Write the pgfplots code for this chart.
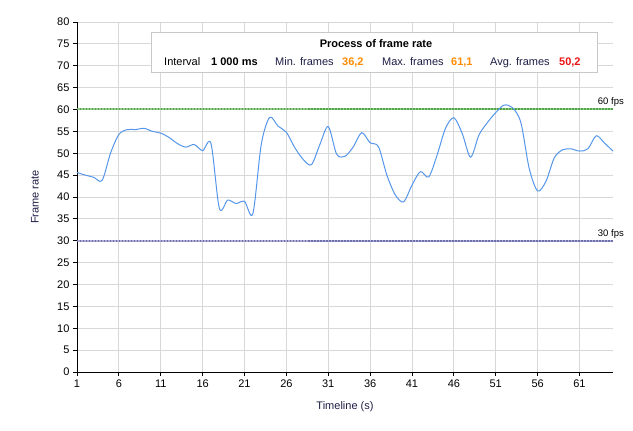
\documentclass[border=0pt]{standalone}
\usepackage{fontspec}
\setmainfont{Liberation Sans}
\usepackage{pgfplots}
\usepackage{pgfplotstable}
\pgfplotsset{compat=1.18}
\definecolor{curve}{RGB}{85,150,235}
\definecolor{gridc}{RGB}{216,216,216}
\definecolor{fpsgreen}{RGB}{80,165,70}
\definecolor{fpspurple}{RGB}{110,110,175}
\definecolor{navy}{RGB}{30,30,70}
\definecolor{orng}{RGB}{255,140,0}
\definecolor{redc}{RGB}{235,20,20}
\definecolor{boxc}{RGB}{200,200,200}

\pgfplotstableread{
t fps
1 45.6
2 45.0
3 44.5
4 43.8
5 50.0
6 54.3
7 55.4
8 55.4
9 55.7
10 55.0
11 54.6
12 53.6
13 52.2
14 51.4
15 52.0
16 50.6
17 52.2
18 37.4
19 39.3
20 38.5
21 39.0
22 36.2
23 52.0
24 58.2
25 56.2
26 54.8
27 51.3
28 48.6
29 47.4
30 52.0
31 56.1
32 49.8
33 49.3
34 51.5
35 54.7
36 52.4
37 51.5
38 45.0
39 40.5
40 38.9
41 42.7
42 45.8
43 44.6
44 49.6
45 55.7
46 58.1
47 54.5
48 49.1
49 54.2
50 57.0
51 59.3
52 61.0
53 60.4
54 57.0
55 46.5
56 41.4
57 43.6
58 49.0
59 50.8
60 51.0
61 50.5
62 51.0
63 54.0
64 52.3
65 50.5
}\datatable

\begin{document}
\begin{tikzpicture}
\begin{axis}[
  scale only axis, width=536pt, height=350pt,
  xmin=1, xmax=65, ymin=0, ymax=80,
  xtick={1,6,...,61}, ytick={0,5,...,80},
  axis x line*=bottom, axis y line*=left,
  axis line style={black, line width=0.8pt, -},
  tick align=outside, major tick length=4pt,
  tick style={black, line width=0.8pt},
  grid=major, major grid style={gridc, line width=0.8pt},
  ticklabel style={font=\fontsize{11}{12}\selectfont},
  /pgf/number format/assume math mode=true,
  xlabel={Timeline (s)}, ylabel={Frame rate},
  every axis x label/.style={at={(rel axis cs:0.5,0)}, yshift=-35pt, anchor=center, font=\fontsize{11}{12}\selectfont, text=navy},
  every axis y label/.style={at={(rel axis cs:0,0.5)}, xshift=-42pt, rotate=90, anchor=center, font=\fontsize{11}{12}\selectfont, text=navy},
  clip=false,
]
\coordinate (sw) at (rel axis cs:0,0);
\addplot[fpsgreen!60!white, line width=2pt] coordinates {(1,60) (65,60)};
\addplot[fpsgreen, line width=2pt, dash pattern=on 1.5pt off 1.5pt] coordinates {(1,60) (65,60)};
\addplot[fpspurple!55!white, line width=1.6pt] coordinates {(1,30) (65,30)};
\addplot[fpspurple, line width=1.6pt, dash pattern=on 1.5pt off 1.5pt] coordinates {(1,30) (65,30)};
\addplot[curve, line width=1pt, smooth, tension=0.5] table[x=t, y=fps] {\datatable};
\node[anchor=south east, font=\fontsize{9.5}{10}\selectfont, inner sep=1pt] at (axis cs:65,60) [xshift=12pt, yshift=1.5pt] {60 fps};
\node[anchor=south east, font=\fontsize{9.5}{10}\selectfont, inner sep=1pt] at (axis cs:65,30) [xshift=12pt, yshift=1.5pt] {30 fps};
\end{axis}
\begin{scope}[shift={(sw)}, shift={(-77pt,372pt)}]
\draw[boxc, fill=white, line width=0.8pt] (151pt,-32pt) rectangle (597pt,-72pt);
\node[font=\fontsize{11}{12}\selectfont\bfseries] at (376pt,-44pt) {Process of frame rate};
\begin{scope}[every node/.style={anchor=base west, inner sep=0pt, font=\fontsize{11}{12}\selectfont}]
\node at (164pt,-66pt) {Interval};
\node[font=\fontsize{11}{12}\selectfont\bfseries] at (211pt,-66pt) {1 000 ms};
\node[text=navy] at (275pt,-66pt) {Min. frames};
\node[text=orng, font=\fontsize{11}{12}\selectfont\bfseries] at (342pt,-66pt) {36,2};
\node[text=navy] at (382pt,-66pt) {Max. frames};
\node[text=orng, font=\fontsize{11}{12}\selectfont\bfseries] at (451pt,-66pt) {61,1};
\node[text=navy] at (490pt,-66pt) {Avg. frames};
\node[text=redc, font=\fontsize{11}{12}\selectfont\bfseries] at (559pt,-66pt) {50,2};
\end{scope}
\pgfresetboundingbox
\path (0pt,0pt) rectangle (633pt,-431pt);
\end{scope}
\end{tikzpicture}
\end{document}
